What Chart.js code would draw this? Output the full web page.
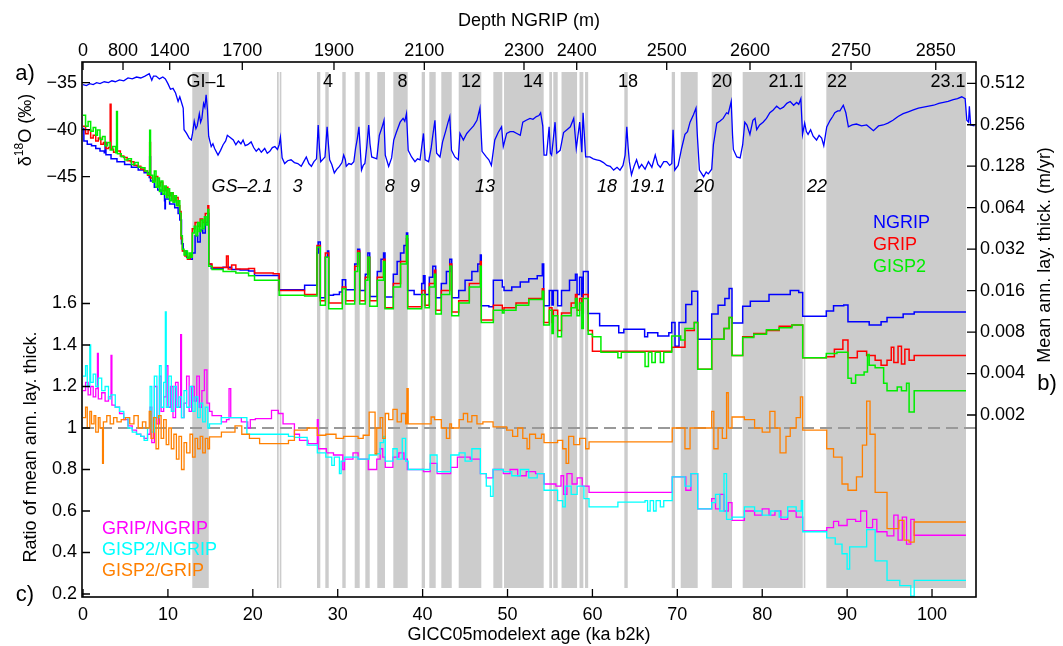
<!DOCTYPE html>
<html>
<head>
<meta charset="utf-8">
<script src="https://cdn.jsdelivr.net/npm/chart.js@4.4.1/dist/chart.umd.min.js"></script>
<style>
  html, body { margin: 0; padding: 0; background: #fff; }
  canvas { display: block; }
</style>
</head>
<body>
<canvas id="coreChart" width="1063" height="646"></canvas>
<script>
const FONT = "'Liberation Sans', Arial, Helvetica, sans-serif";

// axis windows
const AGE_MIN = -0.12, AGE_MAX = 105.18;
const D18O_MIN = -89.71, D18O_MAX = -32.8;
const RATIO_MIN = 0.1855, RATIO_MAX = 2.764;
const THICK_MIN = 9.54e-5, THICK_MAX = 0.731;

// ticks
const ageTicks = [0, 10, 20, 30, 40, 50, 60, 70, 80, 90, 100];
const depthLabels = ['0', '800', '1400', '1700', '1900', '2100', '2300', '2400', '2500', '2600', '2750', '2850'];
const depthAges = [0, 4.71, 10.21, 18.76, 29.56, 40.2, 51.94, 58.15, 68.75, 78.56, 90.46, 100.44];
const d18oTicks = [-45, -40, -35];
const ratioTicks = [0.2, 0.4, 0.6, 0.8, 1, 1.2, 1.4, 1.6];
const thickTicks = [0.002, 0.004, 0.008, 0.016, 0.032, 0.064, 0.128, 0.256, 0.512];

// interstadials (ka b2k)
const bands = [[12.87,14.81],[22.85,23.05],[23.17,23.36],[27.56,27.95],[28.54,28.94],[30.54,30.94],
  [32.0,32.59],[33.25,33.77],[34.66,35.57],[36.55,38.24],[39.89,40.28],[40.79,41.54],[42.2,43.43],
  [44.25,46.91],[48.33,49.39],[49.59,54.26],[54.92,55.24],[55.39,55.91],[56.36,58.19],[58.48,58.93],
  [59.13,59.5],[63.76,64.16],[69.34,69.73],[70.4,72.4],[74.05,76.44],[77.7,84.77],[84.89,85.08],[87.55,104.0]];

const giLabels = [['GI\u20131',14.49],['4',28.86],['8',37.63],['12',45.7],['14',53.0],['18',64.19],
  ['20',75.27],['21.1',82.8],['22',88.81],['23.1',101.88]];
const gsLabels = [['GS\u20132.1',18.73],['3',25.27],['8',36.16],['9',39.1],['13',47.35],['18',61.72],
  ['19.1',66.55],['20',73.15],['22',86.45]];

// NGRIP d18O (permil)
const ngripD18O = [[0,-35.2],[0.4,-35.3],[0.8,-35.1],[1.2,-35.2],[1.6,-35.0],[2.0,-35.1],[2.5,-34.9],[3.0,-35.0],[3.4,-34.8],[3.8,-34.9],
  [4.3,-34.7],[4.8,-34.8],[5.3,-34.5],[5.8,-34.6],[6.3,-34.4],[6.8,-34.5],[7.3,-34.3],[7.8,-34.05],[8.1,-34.75],[8.3,-34.3],
  [8.6,-34.3],[9.0,-34.6],[9.4,-34.4],[9.7,-34.6],[10.0,-35.1],[10.3,-35.7],[10.6,-35.6],[10.9,-36.1],[11.2,-37.0],[11.4,-36.5],
  [11.7,-37.4],[11.8,-37.7],[11.9,-40.0],[12.2,-40.4],[12.5,-40.9],[12.75,-41.1],[12.9,-40.4],[13.1,-39.1],[13.3,-39.9],[13.45,-39.6],
  [13.7,-38.3],[13.85,-39.2],[14.0,-38.8],[14.2,-37.2],[14.35,-37.6],[14.5,-36.3],[14.65,-37.8],[14.8,-40.7],[15.1,-41.8],[15.3,-41.5],
  [15.5,-42.0],[15.9,-42.7],[16.2,-42.2],[16.5,-41.6],[16.8,-41.2],[17.0,-40.6],[17.3,-40.8],[17.7,-41.1],[18.0,-41.6],[18.3,-41.2],
  [18.6,-41.5],[18.85,-41.1],[19.1,-41.7],[19.4,-41.6],[19.8,-41.3],[20.1,-41.9],[20.4,-42.3],[20.7,-42.0],[21.0,-42.4],[21.4,-42.0],
  [21.7,-42.5],[22.0,-42.3],[22.3,-41.9],[22.6,-41.8],[22.9,-42.1],[23.1,-41.6],[23.25,-40.8],[23.45,-43.0],[23.75,-43.6],[24.1,-43.3],
  [24.5,-43.2],[24.9,-43.5],[25.3,-43.6],[25.7,-43.9],[26.0,-43.4],[26.3,-42.9],[26.6,-43.6],[26.9,-43.9],[27.2,-43.4],[27.5,-43.1],
  [27.7,-39.5],[27.85,-42.0],[28.0,-43.4],[28.3,-43.1],[28.5,-42.9],[28.75,-39.7],[28.9,-41.5],[29.05,-43.2],[29.3,-43.7],[29.6,-44.6],
  [29.9,-44.2],[30.2,-43.9],[30.5,-43.5],[30.7,-42.7],[30.9,-43.2],[31.0,-43.9],[31.3,-43.6],[31.6,-43.7],[31.9,-43.4],[32.1,-42.0],
  [32.3,-41.0],[32.5,-39.7],[32.65,-42.0],[32.8,-44.3],[33.0,-43.8],[33.2,-43.6],[33.4,-42.0],[33.65,-39.5],[33.8,-41.5],[34.0,-42.9],
  [34.3,-43.0],[34.6,-43.1],[34.9,-40.6],[35.2,-39.8],[35.45,-39.0],[35.6,-42.7],[36.0,-43.9],[36.35,-43.0],[36.6,-41.1],[36.9,-40.3],
  [37.35,-39.2],[37.7,-38.8],[37.9,-39.1],[38.1,-38.3],[38.3,-42.2],[38.7,-42.9],[39.1,-43.4],[39.4,-43.1],[39.7,-43.2],[40.1,-40.4],
  [40.3,-43.2],[40.7,-43.4],[41.0,-42.0],[41.2,-40.6],[41.45,-39.0],[41.65,-42.5],[42.05,-42.9],[42.35,-41.3],[42.7,-40.2],[43.0,-39.2],
  [43.2,-38.6],[43.4,-42.2],[43.8,-42.9],[44.2,-43.2],[44.4,-40.4],[44.8,-41.1],[45.2,-40.4],[45.6,-40.0],[46.0,-39.6],[46.4,-39.0],
  [46.75,-37.7],[47.0,-42.3],[47.5,-42.9],[47.8,-43.2],[48.1,-43.8],[48.5,-41.1],[48.9,-40.3],[49.3,-39.7],[49.5,-41.8],[49.9,-40.4],
  [50.3,-40.2],[50.7,-40.2],[51.1,-40.4],[51.5,-40.6],[51.8,-39.2],[52.2,-39.0],[52.65,-38.8],[53.0,-38.9],[53.4,-38.6],[53.7,-38.5],
  [53.9,-38.2],[54.15,-39.6],[54.3,-42.7],[54.6,-42.7],[54.9,-39.7],[55.05,-42.5],[55.2,-42.7],[55.6,-39.2],[55.8,-42.5],[56.2,-42.2],
  [56.6,-40.3],[57.0,-40.0],[57.4,-39.7],[57.8,-38.8],[58.1,-42.0],[58.5,-39.2],[58.75,-42.4],[58.9,-38.2],[59.2,-42.9],[59.7,-42.9],
  [60.1,-43.1],[60.5,-43.2],[60.9,-43.3],[61.3,-43.5],[61.7,-43.8],[62.1,-43.9],[62.5,-44.3],[62.9,-44.0],[63.25,-44.3],[63.6,-43.8],
  [63.85,-42.7],[64.05,-39.7],[64.2,-41.8],[64.35,-43.4],[64.6,-44.8],[64.9,-43.9],[65.2,-43.2],[65.5,-44.1],[65.8,-43.7],[66.2,-44.2],
  [66.6,-43.4],[67.0,-44.0],[67.4,-42.7],[67.7,-43.7],[68.0,-44.0],[68.4,-43.4],[68.75,-43.4],[69.1,-43.8],[69.35,-43.6],[69.5,-40.0],
  [69.7,-44.3],[70.1,-43.8],[70.5,-42.0],[70.9,-40.5],[71.2,-40.2],[71.5,-39.2],[71.9,-38.4],[72.2,-37.7],[72.35,-40.5],[72.6,-44.3],
  [73.1,-45.0],[73.4,-44.5],[73.65,-44.7],[74.05,-44.2],[74.25,-41.6],[74.65,-39.3],[75.0,-39.1],[75.4,-38.8],[75.8,-38.2],[76.0,-38.3],
  [76.35,-37.0],[76.5,-40.5],[76.6,-42.1],[77.0,-42.9],[77.4,-43.0],[77.7,-41.6],[77.95,-39.2],[78.2,-39.5],[78.55,-40.5],[78.9,-39.0],
  [79.15,-38.8],[79.35,-40.0],[79.7,-39.5],[80.1,-39.2],[80.5,-38.8],[80.9,-38.2],[81.3,-37.9],[81.7,-37.5],[82.1,-37.8],[82.5,-37.6],
  [82.9,-37.2],[83.3,-37.0],[83.7,-37.4],[84.05,-37.1],[84.3,-37.3],[84.55,-36.7],[84.75,-40.5],[85.0,-39.3],[85.2,-40.2],[85.4,-40.5],
  [85.7,-40.0],[86.0,-40.7],[86.4,-41.1],[86.7,-40.6],[87.0,-40.9],[87.25,-41.7],[87.6,-39.7],[88.0,-39.0],[88.3,-38.6],[88.55,-38.2],
  [88.9,-38.0],[89.15,-38.0],[89.55,-37.4],[89.85,-38.2],[90.15,-39.7],[90.6,-39.5],[91.1,-39.4],[91.7,-39.6],[92.3,-39.5],[93.1,-40.1],
  [93.7,-39.6],[94.25,-39.5],[94.8,-39.3],[95.4,-39.0],[96.0,-38.6],[96.6,-38.3],[97.2,-38.1],[97.8,-37.9],[98.4,-37.7],[99.0,-37.6],
  [99.6,-37.5],[100.2,-37.4],[100.8,-37.2],[101.35,-37.1],[101.9,-37.0],[102.5,-36.8],[103.0,-36.7],[103.5,-36.5],[103.9,-36.7],[104.1,-39.0],
  [104.3,-39.2],[104.4,-37.5],[104.55,-39.5],[105.0,-39.6]];

// mean annual layer thickness (m/yr)
const ngripThick = [[0.0,0.24],[0.1,0.195],[0.5,0.185],[1.0,0.18],[1.5,0.172],[2.0,0.165],[2.5,0.16],[2.6,0.19],[2.7,0.155],[3.3,0.145],
  [4.0,0.138],[4.9,0.132],[5.7,0.126],[6.5,0.12],[7.2,0.115],[7.8,0.106],[7.85,0.15],[7.95,0.1],[8.4,0.09],[8.8,0.086],
  [9.2,0.08],[9.6,0.072],[9.65,0.063],[9.7,0.074],[10.2,0.068],[10.8,0.064],[11.2,0.058],[11.4,0.052],[11.6,0.035],[11.8,0.031],
  [12.2,0.028],[12.6,0.027],[12.87,0.03],[13.2,0.04],[13.5,0.036],[13.8,0.044],[14.1,0.042],[14.4,0.05],[14.7,0.058],[14.81,0.025],
  [15.1,0.0232],[16.5,0.0236],[17.5,0.0228],[18.5,0.0226],[19.5,0.0222],[20.2,0.0206],[23.1,0.0162],[26.1,0.0175],[27.56,0.030],[27.7,0.036],
  [27.95,0.0142],[28.54,0.028],[28.8,0.031],[28.94,0.0148],[29.5,0.015],[30.2,0.0156],[30.54,0.0192],[30.94,0.0162],[32.0,0.025],[32.35,0.032],
  [32.59,0.016],[33.25,0.021],[33.55,0.030],[33.77,0.0145],[34.66,0.022],[35.1,0.027],[35.4,0.030],[35.57,0.0144],[36.55,0.021],[37.0,0.026],
  [37.4,0.030],[37.8,0.034],[38.1,0.042],[38.24,0.016],[39.0,0.015],[39.89,0.018],[40.1,0.0205],[40.28,0.015],[40.79,0.020],[41.2,0.024],
  [41.54,0.0142],[42.2,0.018],[42.8,0.022],[43.2,0.027],[43.43,0.0142],[44.25,0.016],[45.0,0.019],[45.8,0.022],[46.5,0.025],[46.8,0.029],
  [46.91,0.0124],[47.8,0.0122],[48.33,0.019],[49.39,0.017],[49.59,0.016],[50.5,0.017],[51.5,0.0185],[52.5,0.0195],[53.5,0.0205],[54.1,0.025],
  [54.26,0.0124],[54.92,0.016],[55.24,0.0126],[55.39,0.016],[55.91,0.0124],[56.36,0.016],[57.3,0.019],[58.0,0.021],[58.19,0.015],[58.48,0.020],
  [58.75,0.0145],[58.93,0.022],[59.5,0.0109],[60.85,0.0089],[63.1,0.0079],[63.7,0.0084],[66.15,0.0074],[66.5,0.0079],[67.7,0.0075],[69.0,0.0079],
  [69.34,0.0094],[69.73,0.0063],[70.2,0.0094],[71.0,0.0127],[71.7,0.0158],[72.4,0.0071],[74.05,0.0108],[74.8,0.0125],[75.6,0.014],[76.1,0.0166],
  [76.44,0.0093],[77.7,0.0123],[78.6,0.0134],[80.8,0.015],[83.3,0.016],[84.3,0.0155],[84.77,0.0104],[87.55,0.0114],[88.4,0.0124],[89.6,0.0126],
  [90.1,0.0095],[92.6,0.009],[94.0,0.0095],[94.7,0.0102],[96.6,0.0108],[97.9,0.0112],[104.0,0.0112]];

const gripThick = [[0.0,0.25],[0.3,0.22],[0.6,0.235],[0.9,0.205],[1.2,0.215],[1.5,0.195],[1.8,0.205],[2.1,0.185],[2.4,0.19],[2.7,0.172],
  [3.0,0.175],[3.2,0.36],[3.3,0.17],[3.6,0.162],[4.0,0.165],[4.4,0.152],[4.8,0.148],[5.2,0.14],[5.6,0.138],[6.0,0.13],
  [6.4,0.128],[6.8,0.122],[7.2,0.118],[7.6,0.11],[7.85,0.19],[7.95,0.105],[8.2,0.1],[8.5,0.108],[8.8,0.092],[9.1,0.098],
  [9.4,0.085],[9.7,0.09],[10.0,0.078],[10.3,0.082],[10.6,0.072],[10.9,0.076],[11.2,0.066],[11.4,0.06],[11.55,0.038],[11.7,0.031],
  [12.0,0.0285],[12.3,0.027],[12.6,0.029],[12.87,0.045],[13.2,0.05],[13.5,0.047],[13.8,0.053],[14.1,0.05],[14.4,0.058],[14.7,0.066],
  [14.81,0.025],[15.2,0.0235],[16.9,0.0285],[17.1,0.023],[17.5,0.0245],[18.0,0.023],[19.5,0.0232],[20.2,0.0215],[22.4,0.0212],[23.1,0.016],
  [26.1,0.015],[27.56,0.034],[27.95,0.0135],[28.54,0.030],[28.94,0.013],[30.54,0.017],[30.94,0.0135],[32.0,0.024],[32.35,0.031],[32.59,0.0135],
  [33.25,0.020],[33.55,0.028],[33.77,0.0135],[34.66,0.020],[35.4,0.027],[35.57,0.012],[36.55,0.018],[37.4,0.026],[38.1,0.038],[38.24,0.0122],
  [39.89,0.016],[40.28,0.0125],[40.79,0.018],[41.4,0.0225],[41.54,0.0115],[42.2,0.016],[43.2,0.025],[43.43,0.0112],[44.25,0.0135],[45.5,0.018],
  [46.8,0.026],[46.91,0.0098],[48.33,0.0125],[49.39,0.0115],[49.59,0.012],[51.0,0.013],[52.5,0.014],[54.1,0.0165],[54.26,0.0094],[54.92,0.012],
  [55.24,0.0094],[55.39,0.0115],[55.91,0.0082],[56.36,0.011],[57.5,0.013],[58.0,0.015],[58.19,0.0115],[58.48,0.014],[58.75,0.011],[58.93,0.015],
  [59.5,0.0082],[60.0,0.0058],[69.34,0.0062],[70.4,0.0062],[70.9,0.0082],[72.0,0.0094],[72.4,0.0043],[74.05,0.0071],[75.5,0.0085],[76.1,0.0102],
  [76.44,0.0054],[77.7,0.0074],[79.0,0.0078],[80.5,0.0082],[82.0,0.0088],[83.5,0.009],[84.77,0.0052],[87.55,0.0053],[88.5,0.006],[89.5,0.007],
  [90.1,0.0052],[91.2,0.0058],[92.3,0.0054],[93.3,0.005],[94.0,0.0046],[94.7,0.005],[95.2,0.0062],[95.5,0.0048],[96.0,0.0063],[96.4,0.0047],
  [96.8,0.006],[97.3,0.005],[97.9,0.0054],[104.0,0.0054]];

const gisp2Thick = [[0.0,0.30],[0.3,0.25],[0.6,0.27],[0.9,0.23],[1.2,0.245],[1.5,0.215],[1.7,0.235],[2.0,0.2],[2.3,0.21],[2.6,0.18],
  [2.9,0.19],[3.2,0.168],[3.5,0.178],[3.85,0.16],[3.95,0.32],[4.05,0.158],[4.5,0.15],[4.9,0.142],[5.3,0.145],[5.7,0.132],
  [6.1,0.136],[6.5,0.126],[6.9,0.125],[7.3,0.118],[7.6,0.112],[7.85,0.234],[7.95,0.11],[8.2,0.098],[8.4,0.118],[8.6,0.09],
  [8.8,0.105],[9.0,0.084],[9.2,0.1],[9.4,0.08],[9.6,0.092],[9.8,0.076],[10.0,0.088],[10.2,0.072],[10.4,0.082],[10.6,0.07],
  [10.8,0.078],[11.0,0.066],[11.2,0.072],[11.4,0.058],[11.55,0.04],[11.7,0.032],[11.9,0.029],[12.1,0.031],[12.3,0.0275],[12.5,0.03],
  [12.7,0.028],[12.87,0.042],[13.1,0.047],[13.3,0.04],[13.5,0.05],[13.7,0.043],[13.9,0.052],[14.1,0.045],[14.3,0.055],[14.5,0.048],
  [14.7,0.062],[14.81,0.024],[15.2,0.0228],[16.5,0.022],[18.0,0.0215],[19.5,0.0205],[20.2,0.019],[23.1,0.0148],[26.1,0.0146],[27.56,0.033],
  [27.95,0.0125],[28.54,0.028],[28.94,0.0118],[30.54,0.0165],[30.94,0.0128],[32.0,0.022],[32.35,0.030],[32.59,0.0128],[33.25,0.019],[33.55,0.028],
  [33.77,0.0123],[34.66,0.019],[35.4,0.026],[35.57,0.0118],[36.55,0.017],[37.4,0.025],[38.1,0.040],[38.24,0.0118],[39.89,0.015],[40.28,0.012],
  [40.79,0.017],[41.4,0.021],[41.54,0.0108],[42.2,0.015],[43.2,0.024],[43.43,0.0105],[44.25,0.013],[45.5,0.017],[46.8,0.024],[46.91,0.0094],
  [48.33,0.0115],[49.39,0.011],[49.59,0.0115],[51.0,0.0125],[52.5,0.0138],[54.1,0.0158],[54.26,0.009],[54.92,0.0115],[55.24,0.0078],[55.39,0.0105],
  [55.91,0.0074],[56.36,0.0105],[57.5,0.012],[58.0,0.014],[58.19,0.0105],[58.48,0.013],[58.75,0.0085],[58.93,0.014],[59.5,0.0077],[60.0,0.0074],
  [61.0,0.0057],[63.0,0.0052],[63.4,0.0057],[66.2,0.0045],[66.6,0.0057],[67.0,0.0048],[67.4,0.0057],[68.0,0.0048],[68.4,0.0057],[69.34,0.0075],
  [70.4,0.007],[70.9,0.0085],[72.0,0.0094],[72.4,0.0043],[74.05,0.0071],[75.5,0.0085],[76.1,0.0102],[76.44,0.0054],[77.7,0.0073],[79.0,0.0077],
  [80.5,0.0083],[82.0,0.0086],[83.5,0.009],[84.77,0.0052],[87.55,0.0056],[88.8,0.0057],[90.1,0.0037],[90.5,0.0034],[91.0,0.0039],[92.0,0.0041],
  [92.4,0.0055],[92.6,0.0046],[93.3,0.0044],[94.3,0.0034],[94.7,0.003],[95.9,0.0032],[96.4,0.003],[97.0,0.0034],[97.3,0.0021],[97.9,0.003],
  [104.0,0.003]];

// ratios of mean annual layer thickness
const gripNgripRatio = [[0.0,1.18],[0.3,1.22],[0.6,1.16],[0.9,1.2],[1.2,1.15],[1.5,1.19],[1.7,1.36],[1.8,1.14],[2.2,1.17],[2.6,1.13],
  [3.0,1.15],[3.3,1.35],[3.4,1.11],[3.8,1.1],[4.3,1.07],[4.8,1.04],[5.3,1.01],[5.8,0.99],[6.3,0.97],[6.8,0.96],
  [7.2,0.95],[7.6,0.97],[7.9,1.1],[8.1,0.93],[8.4,1.2],[8.7,1.02],[9.0,1.25],[9.2,1.08],[9.5,1.15],[9.8,1.3],
  [10.0,1.1],[10.3,1.2],[10.6,1.05],[10.9,1.22],[11.2,1.1],[11.5,1.45],[11.6,1.05],[11.9,1.12],[12.2,1.25],[12.5,1.08],
  [12.8,1.2],[13.1,1.13],[13.4,1.25],[13.7,1.1],[14.0,1.18],[14.3,1.28],[14.6,1.12],[14.9,1.08],[15.2,1.06],[16.3,1.03],
  [16.9,1.04],[17.2,1.19],[17.4,1.05],[18.65,1.03],[19.4,1.0],[19.7,1.04],[20.3,1.045],[22.2,1.085],[23.0,1.07],[23.56,1.02],
  [24.9,0.97],[25.5,0.94],[26.5,0.925],[27.6,1.04],[27.7,0.9],[28.66,0.88],[29.5,0.87],[30.6,0.8],[30.8,0.85],[31.8,0.88],
  [32.4,0.85],[33.6,0.8],[34.6,0.85],[35.0,0.9],[35.3,0.86],[35.6,0.81],[36.5,0.86],[37.2,0.88],[37.8,0.85],[38.2,0.8],
  [40.1,0.79],[40.9,0.83],[41.7,0.78],[43.3,0.81],[44.1,0.86],[45.6,0.85],[46.8,0.78],[47.5,0.76],[48.3,0.8],[49.5,0.78],
  [50.3,0.8],[51.2,0.77],[52.2,0.79],[53.3,0.78],[54.3,0.73],[55.7,0.72],[56.3,0.77],[56.6,0.68],[57.0,0.78],[57.6,0.73],
  [58.2,0.76],[58.8,0.72],[59.6,0.69],[69.4,0.764],[71.0,0.7],[71.6,0.78],[72.4,0.61],[74.05,0.66],[74.5,0.61],[75.0,0.68],
  [75.5,0.6],[76.0,0.64],[76.44,0.555],[77.9,0.6],[79.1,0.58],[80.0,0.61],[80.8,0.58],[81.5,0.6],[82.2,0.56],[83.0,0.6],
  [84.0,0.57],[84.77,0.504],[87.6,0.52],[88.4,0.55],[89.0,0.53],[90.0,0.56],[91.0,0.55],[91.6,0.6],[92.3,0.52],[93.0,0.56],
  [93.5,0.5],[94.7,0.48],[95.5,0.58],[96.0,0.46],[96.5,0.57],[97.0,0.44],[97.5,0.56],[97.9,0.483],[104.0,0.483]];

const gisp2NgripRatio = [[0.0,1.25],[0.3,1.3],[0.5,1.2],[0.8,1.4],[0.9,1.22],[1.2,1.26],[1.5,1.2],[1.8,1.24],[2.2,1.18],[2.6,1.2],
  [3.0,1.14],[3.3,1.16],[3.8,1.1],[4.3,1.08],[4.8,1.05],[5.3,1.0],[5.8,0.98],[6.3,0.97],[6.8,0.96],[7.2,0.94],
  [7.6,1.0],[7.9,1.2],[8.1,0.98],[8.4,1.25],[8.7,1.05],[9.0,1.3],[9.2,1.1],[9.5,1.22],[9.7,1.56],[9.8,1.1],
  [10.1,1.25],[10.4,1.08],[10.7,1.2],[11.0,1.1],[11.3,1.15],[11.6,1.05],[11.9,1.18],[12.2,1.1],[12.6,1.2],[12.9,1.08],
  [13.2,1.15],[13.5,1.05],[13.8,1.12],[14.1,1.03],[14.4,1.1],[14.7,1.0],[14.9,1.02],[16.3,1.05],[18.7,1.05],[19.3,0.97],
  [24.2,0.96],[24.9,0.955],[26.4,0.917],[27.6,0.88],[28.6,0.86],[29.3,0.82],[29.6,0.86],[30.2,0.78],[30.4,0.84],[30.8,0.86],
  [32.4,0.85],[33.7,0.87],[34.6,0.876],[35.0,0.93],[35.4,0.96],[35.6,0.84],[36.5,0.9],[37.0,0.85],[37.6,0.95],[38.0,0.84],
  [38.3,0.8],[40.9,0.87],[41.7,0.79],[43.3,0.87],[44.3,0.88],[45.0,0.84],[45.8,0.9],[46.8,0.78],[47.5,0.72],[48.0,0.67],
  [48.3,0.8],[49.5,0.79],[50.5,0.77],[51.5,0.8],[52.5,0.76],[53.5,0.78],[54.3,0.7],[55.9,0.65],[56.5,0.62],[56.8,0.72],
  [57.5,0.68],[58.2,0.72],[59.0,0.66],[59.6,0.62],[63.0,0.643],[66.2,0.65],[66.5,0.6],[66.8,0.65],[67.2,0.6],[67.5,0.65],
  [68.0,0.62],[68.4,0.65],[69.4,0.764],[70.9,0.72],[71.6,0.78],[72.4,0.61],[74.05,0.64],[74.5,0.68],[75.0,0.6],[75.5,0.78],
  [75.8,0.56],[76.44,0.57],[77.9,0.62],[79.1,0.6],[80.0,0.58],[81.0,0.6],[82.0,0.57],[83.0,0.62],[84.0,0.6],[84.6,0.65],
  [84.77,0.5],[87.6,0.47],[88.6,0.44],[89.4,0.394],[90.0,0.32],[90.3,0.427],[92.3,0.51],[93.3,0.36],[94.7,0.266],[96.2,0.24],
  [97.5,0.19],[97.9,0.266],[104.0,0.266]];

const gisp2GripRatio = [[0.0,1.05],[0.3,1.1],[0.5,1.0],[0.8,1.08],[1.0,1.02],[1.3,1.06],[1.5,0.98],[1.8,1.05],[2.0,1.0],[2.3,0.83],
  [2.4,1.03],[2.8,1.06],[3.2,1.02],[3.6,1.05],[4.0,1.03],[4.5,1.04],[5.0,1.05],[5.5,1.02],[6.0,1.06],[6.5,1.0],
  [7.0,1.03],[7.4,1.0],[7.8,1.08],[8.0,0.95],[8.3,1.05],[8.6,0.9],[8.9,1.06],[9.2,0.95],[9.5,1.04],[9.8,0.92],
  [10.1,1.0],[10.4,0.9],[10.7,0.97],[11.0,0.85],[11.3,0.96],[11.6,0.8],[11.9,0.93],[12.2,0.88],[12.6,0.97],[12.9,0.86],
  [13.2,0.95],[13.5,0.9],[13.8,0.96],[14.1,0.88],[14.4,0.95],[14.7,0.9],[14.9,0.957],[16.3,0.98],[17.9,1.01],[18.7,0.97],
  [19.6,0.95],[20.8,0.925],[24.2,0.94],[24.9,0.99],[26.4,1.0],[27.6,0.965],[28.6,0.97],[29.8,0.95],[30.7,0.96],[32.4,0.95],
  [33.0,0.965],[33.7,1.077],[34.4,0.876],[34.6,1.0],[35.0,1.05],[35.3,0.95],[35.6,1.07],[36.0,1.04],[36.5,1.09],[37.0,1.03],
  [37.5,1.07],[38.0,1.02],[38.15,1.19],[38.3,1.02],[41.0,1.053],[41.4,1.04],[42.2,1.0],[42.8,0.95],[43.2,1.02],[43.4,1.0],
  [44.3,1.04],[44.8,1.07],[45.3,1.03],[45.8,1.06],[46.4,1.02],[47.1,1.03],[48.3,1.005],[49.9,0.99],[50.6,0.96],[51.2,1.0],
  [51.8,0.95],[52.3,0.9],[52.6,0.97],[53.3,0.95],[54.0,0.97],[54.3,0.93],[55.9,0.94],[56.5,0.9],[56.9,0.83],[57.2,0.96],
  [57.8,0.92],[58.5,0.95],[59.2,0.9],[59.6,0.933],[69.4,1.0],[70.9,0.9],[71.5,1.0],[72.4,1.0],[74.05,1.08],[74.3,0.9],
  [74.8,1.0],[75.3,0.95],[75.8,1.17],[76.0,1.0],[76.44,1.053],[77.9,1.04],[79.1,1.0],[80.0,0.98],[80.9,1.08],[81.5,1.0],
  [82.1,0.88],[82.8,0.96],[83.3,1.0],[84.0,1.05],[84.5,1.15],[84.77,0.99],[87.6,0.9],[88.4,0.86],[89.4,0.73],[90.1,0.7],
  [91.1,0.764],[91.8,0.917],[92.3,1.13],[92.7,0.97],[93.3,0.69],[94.7,0.515],[96.1,0.555],[96.7,0.46],[97.3,0.45],[97.9,0.547],
  [104.0,0.547]];

const refRatio = 1;

const toXY = arr => arr.map(([x, y]) => ({ x, y }));
const d18oToRatio = d => RATIO_MIN + (d - D18O_MIN) / (D18O_MAX - D18O_MIN) * (RATIO_MAX - RATIO_MIN);
const leftLabels = ratioTicks.map(v => (v === 1 ? '1' : v.toFixed(1)))
  .concat(d18oTicks.map(d => '\u2212' + Math.abs(d)));

const bandPlugin = {
  id: 'bands',
  beforeDatasetsDraw(chart) {
    const { ctx, chartArea: a, scales: { x } } = chart;
    ctx.save();
    ctx.fillStyle = '#cccccc';
    for (const [s, e] of bands) {
      const x0 = x.getPixelForValue(s), x1 = x.getPixelForValue(e);
      ctx.fillRect(x0, a.top + 10, x1 - x0, a.bottom - a.top - 19);
    }
    ctx.restore();
  }
};

const framePlugin = {
  id: 'frame',
  afterDraw(chart) {
    const { ctx, chartArea: a, scales } = chart;
    const tl = 8;
    ctx.save();
    ctx.strokeStyle = '#000';
    ctx.lineWidth = 1.3;
    ctx.beginPath();
    scales.x.ticks.forEach(t => {
      const p = scales.x.getPixelForValue(t.value);
      ctx.moveTo(p, a.bottom); ctx.lineTo(p, a.bottom - tl);
    });
    scales.xTop.ticks.forEach(t => {
      const p = scales.xTop.getPixelForValue(t.value);
      ctx.moveTo(p, a.top); ctx.lineTo(p, a.top + tl);
    });
    scales.yRatio.ticks.forEach(t => {
      const p = scales.yRatio.getPixelForValue(t.value);
      ctx.moveTo(a.left, p); ctx.lineTo(a.left + tl, p);
    });
    scales.yThick.ticks.forEach(t => {
      const p = scales.yThick.getPixelForValue(t.value);
      ctx.moveTo(a.right, p); ctx.lineTo(a.right - tl - 1, p);
    });
    ctx.stroke();
    ctx.lineWidth = 1.6;
    ctx.strokeRect(a.left, a.top, a.right - a.left, a.bottom - a.top);
    ctx.restore();
  }
};

function rotatedText(ctx, text, cx, cy, font) {
  ctx.save();
  ctx.translate(cx, cy);
  ctx.rotate(-Math.PI / 2);
  ctx.font = font;
  ctx.textAlign = 'center';
  ctx.textBaseline = 'middle';
  ctx.fillText(text, 0, 0);
  ctx.restore();
}

const textPlugin = {
  id: 'texts',
  afterDraw(chart) {
    const { ctx, chartArea: a, scales: { x } } = chart;
    const big = '18px ' + FONT, small = '12px ' + FONT;
    ctx.save();
    ctx.fillStyle = '#000';

    // event labels
    ctx.textAlign = 'center';
    ctx.textBaseline = 'middle';
    ctx.font = big;
    giLabels.forEach(([t, age]) => ctx.fillText(t, x.getPixelForValue(age), a.top + 20));
    ctx.font = 'italic ' + big;
    gsLabels.forEach(([t, age]) => ctx.fillText(t, x.getPixelForValue(age), a.top + 125));

    // left title: delta 18O
    ctx.save();
    ctx.translate(26, 130);
    ctx.rotate(-Math.PI / 2);
    ctx.textAlign = 'left';
    ctx.textBaseline = 'middle';
    ctx.font = big; const w1 = ctx.measureText('\u03b4').width;
    ctx.font = small; const w2 = ctx.measureText('18').width;
    ctx.font = big; const w3 = ctx.measureText('O (\u2030)').width;
    let px = -(w1 + w2 + w3) / 2;
    ctx.font = big; ctx.fillText('\u03b4', px, 0); px += w1;
    ctx.font = small; ctx.fillText('18', px, -6); px += w2;
    ctx.font = big; ctx.fillText('O (\u2030)', px, 0);
    ctx.restore();

    rotatedText(ctx, 'Ratio of mean ann. lay. thick.', 31, 447, big);
    rotatedText(ctx, 'Mean ann. lay. thick. (m/yr)', 1045, 255, big);

    // panel letters
    ctx.font = '22px ' + FONT;
    ctx.textAlign = 'center';
    ctx.fillText('a)', 25, 74);
    ctx.fillText('c)', 25, 595);
    ctx.fillText('b)', 1047, 384);

    // legends
    ctx.font = big;
    ctx.textAlign = 'left';
    [['NGRIP', '#0000ff'], ['GRIP', '#ff0000'], ['GISP2', '#00ee00']].forEach(([t, c], i) => {
      ctx.fillStyle = c;
      ctx.fillText(t, a.right - 103, 223 + i * 22);
    });
    [['GRIP/NGRIP', '#ff00ff'], ['GISP2/NGRIP', '#00ffff'], ['GISP2/GRIP', '#ff8000']].forEach(([t, c], i) => {
      ctx.fillStyle = c;
      ctx.fillText(t, a.left + 20, 529 + i * 21);
    });
    ctx.restore();
  }
};

function line(data, color, yAxisID, width, stepped) {
  return {
    data: toXY(data), borderColor: color, borderWidth: width, pointRadius: 0,
    fill: false, tension: 0, stepped: stepped, xAxisID: 'x', yAxisID: yAxisID
  };
}

const tickFont = { family: FONT, size: 18 };
Chart.defaults.font.family = FONT;

new Chart(document.getElementById('coreChart').getContext('2d'), {
  type: 'line',
  data: {
    datasets: [
      line(gisp2GripRatio, '#ff8000', 'yRatio', 1.3, true),
      line(gisp2NgripRatio, '#00ffff', 'yRatio', 1.3, true),
      line(gripNgripRatio, '#ff00ff', 'yRatio', 1.3, true),
      Object.assign(line([[AGE_MIN, refRatio], [AGE_MAX, refRatio]], '#999999', 'yRatio', 2, false), { borderDash: [12, 6] }),
      line(gisp2Thick, '#00ee00', 'yThick', 1.5, true),
      line(gripThick, '#ff0000', 'yThick', 1.5, true),
      line(ngripThick, '#0000ff', 'yThick', 1.5, true),
      line(ngripD18O, '#0000ff', 'yD18O', 1.3, false)
    ]
  },
  options: {
    responsive: false,
    animation: false,
    devicePixelRatio: 1,
    layout: { padding: 0 },
    plugins: { legend: { display: false }, tooltip: { enabled: false } },
    scales: {
      x: {
        type: 'linear', position: 'bottom', min: AGE_MIN, max: AGE_MAX,
        grid: { display: false, drawTicks: false }, border: { display: false },
        ticks: { font: tickFont, color: '#000', padding: 7, autoSkip: false, maxRotation: 0, callback: v => String(v) },
        afterBuildTicks: s => { s.ticks = ageTicks.map(v => ({ value: v })); },
        afterFit: s => { s.height = 49; },
        title: { display: true, text: 'GICC05modelext age (ka b2k)', font: tickFont, color: '#000', padding: { top: 0, bottom: 0 } }
      },
      xTop: {
        type: 'linear', position: 'top', min: AGE_MIN, max: AGE_MAX,
        grid: { display: false, drawTicks: false }, border: { display: false },
        ticks: { font: tickFont, color: '#000', padding: 0, autoSkip: false, maxRotation: 0, callback: (v, i) => depthLabels[i] },
        afterBuildTicks: s => { s.ticks = depthAges.map(v => ({ value: v })); },
        afterFit: s => { s.height = 62; },
        title: { display: true, text: 'Depth NGRIP (m)', font: tickFont, color: '#000', padding: { top: 10, bottom: 0 } }
      },
      yRatio: {
        type: 'linear', position: 'left', min: RATIO_MIN, max: RATIO_MAX,
        grid: { display: false, drawTicks: false }, border: { display: false },
        ticks: { font: tickFont, color: '#000', padding: 5, autoSkip: false, callback: (v, i) => leftLabels[i] },
        afterBuildTicks: s => {
          s.ticks = ratioTicks.map(v => ({ value: v })).concat(d18oTicks.map(d => ({ value: d18oToRatio(d) })));
        },
        afterFit: s => { s.width = 82; }
      },
      yD18O: {
        type: 'linear', position: 'left', display: false, min: D18O_MIN, max: D18O_MAX
      },
      yThick: {
        type: 'logarithmic', position: 'right', min: THICK_MIN, max: THICK_MAX,
        grid: { display: false, drawTicks: false }, border: { display: false },
        ticks: { font: tickFont, color: '#000', padding: 4, autoSkip: false, callback: (v, i) => String(thickTicks[i]) },
        afterBuildTicks: s => { s.ticks = thickTicks.map(v => ({ value: v })); },
        afterFit: s => { s.width = 87; }
      }
    }
  },
  plugins: [bandPlugin, framePlugin, textPlugin]
});
</script>
</body>
</html>
